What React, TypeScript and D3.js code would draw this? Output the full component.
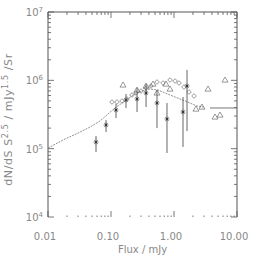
import React from 'react';
import * as d3 from 'd3';

// model curve (dotted) and the flat tail (solid)
const modelFlux = [0.01, 0.0173, 0.0299, 0.0464, 0.0669, 0.0896, 0.1157, 0.167, 0.223, 0.31, 0.416, 0.557, 0.864, 1.5, 2.32, 2.99];
const modelCounts = [1.02e5, 1.34e5, 1.69e5, 2.07e5, 2.54e5, 3.22e5, 3.94e5, 4.98e5, 6.1e5, 6.98e5, 7.46e5, 7.21e5, 6.1e5, 4.98e5, 4.21e5, 4.07e5];
const tailFlux = [3.73, 10];
const tailCounts = [3.94e5, 3.94e5];

// asterisks with error bars
const starFlux = [0.0578, 0.0834, 0.12, 0.173, 0.259, 0.36, 0.537, 0.774, 1.39, 1.61];
const starCounts = [1.25e5, 2.22e5, 3.68e5, 5.15e5, 5.33e5, 6.53e5, 4.66e5, 2.72e5, 3.44e5, 8.26e5];
const starHigh = [1.53e5, 2.62e5, 4.51e5, 6.31e5, 7.72e5, 8.83e5, 7.21e5, 4.66e5, 5.7e5, 1.42e6];
const starLow = [8.9e4, 1.75e5, 2.81e5, 3.94e5, 3.44e5, 4.07e5, 2.0e5, 8.64e4, 1.06e5, 1.81e5];

// open diamonds
const diamondFlux = [0.1037, 0.1245, 0.1496, 0.1795, 0.2154, 0.2494, 0.2993, 0.3594, 0.4315, 0.537, 0.669, 0.864, 1.04, 1.2, 1.44, 1.73, 2.08];
const diamondCounts = [4.82e5, 4.82e5, 4.98e5, 5.33e5, 6.1e5, 6.53e5, 6.98e5, 7.72e5, 8.26e5, 9.46e5, 9.14e5, 1.01e6, 9.78e5, 9.14e5, 7.98e5, 6.75e5, 5.9e5];

// open triangles
const triangleFlux = [0.155, 0.259, 0.36, 0.464, 0.537, 0.746, 0.864, 2.23, 2.78, 3.47, 4.48, 5.37, 6.45];
const triangleCounts = [8.55e5, 7.21e5, 8.26e5, 8.83e5, 6.53e5, 8.83e5, 7.46e5, 3.8e5, 4.07e5, 7.46e5, 2.91e5, 3.11e5, 1.01e6];

const xTickValues = [0.01, 0.1, 1, 10];
const xTickLabels = ['0.01', '0.10', '1.00', '10.00'];
const yTickExponents = [4, 5, 6, 7];

const W = 257;
const H = 259;
const left = 48, right = 237, top = 12, bottom = 217;
const ink = '#555';
const textColor = '#888';
const font = 'DejaVu Sans, sans-serif';

export default function App() {
  const x = d3.scaleLog().domain([0.01, 10]).range([left, right]);
  const y = d3.scaleLog().domain([1e4, 1e7]).range([bottom, top]);

  const line = d3.line<[number, number]>().x(d => x(d[0])).y(d => y(d[1]));
  const model = line(modelFlux.map((f, i) => [f, modelCounts[i]]));
  const tail = line(tailFlux.map((f, i) => [f, tailCounts[i]]));

  // ticks: majors at decades, minors at 2..9
  const xTicks: { v: number; major: boolean }[] = [];
  [0.01, 0.1, 1].forEach(d => {
    for (let k = 1; k <= 9; k++) xTicks.push({ v: d * k, major: k === 1 });
  });
  xTicks.push({ v: 10, major: true });
  const yTicks: { v: number; major: boolean }[] = [];
  [1e4, 1e5, 1e6].forEach(d => {
    for (let k = 1; k <= 9; k++) yTicks.push({ v: d * k, major: k === 1 });
  });
  yTicks.push({ v: 1e7, major: true });

  const star = (cx: number, cy: number, key: string) => {
    const r = 2.5;
    const d = r * 0.72;
    return (
      <g key={key} stroke={ink} strokeWidth={0.7}>
        <line x1={cx - r} y1={cy} x2={cx + r} y2={cy} />
        <line x1={cx} y1={cy - r} x2={cx} y2={cy + r} />
        <line x1={cx - d} y1={cy - d} x2={cx + d} y2={cy + d} />
        <line x1={cx - d} y1={cy + d} x2={cx + d} y2={cy - d} />
        <circle cx={cx} cy={cy} r={0.9} fill="#222" stroke="none" />
      </g>
    );
  };

  return (
    <svg width={W} height={H} style={{ position: 'absolute', left: 0, top: 0, background: '#fff' }}>
      {/* frame */}
      <line x1={left} y1={top} x2={right} y2={top} stroke={ink} />
      <line x1={left} y1={top} x2={left} y2={bottom} stroke={ink} />
      <line x1={right} y1={top} x2={right} y2={bottom} stroke={ink} />

      {xTicks.map((t, i) => {
        const len = t.major ? 6 : 3;
        return (
          <g key={'xt' + i} stroke={ink} strokeWidth={0.8}>
            <line x1={x(t.v)} y1={top} x2={x(t.v)} y2={top + len} />
            <line x1={x(t.v)} y1={bottom} x2={x(t.v)} y2={bottom - (t.major ? 6 : 1.5)} />
          </g>
        );
      })}
      {yTicks.map((t, i) => {
        const len = t.major ? 6 : 3;
        return (
          <g key={'yt' + i} stroke={ink} strokeWidth={0.8}>
            <line x1={left} y1={y(t.v)} x2={left + len} y2={y(t.v)} />
            <line x1={right} y1={y(t.v)} x2={right - len} y2={y(t.v)} />
          </g>
        );
      })}

      {xTickValues.map((v, i) => (
        <text key={'xl' + i} x={x(v) - 3} y={240} fontSize={10} fill={textColor}
          fontFamily={font} textAnchor="middle">{xTickLabels[i]}</text>
      ))}
      {yTickExponents.map(e => (
        <text key={'yl' + e} x={43} y={y(Math.pow(10, e)) + 4} fontSize={10} fill={textColor}
          fontFamily={font} textAnchor="end">
          10<tspan dy={-4} fontSize={7}>{e}</tspan>
        </text>
      ))}

      <text x={(left + right) / 2} y={253} fontSize={10} fill={textColor} fontFamily={font}
        textAnchor="middle">Flux / mJy</text>
      <text transform={`translate(12,${(top + bottom) / 2 + 5}) rotate(-90)`} fontSize={11}
        fill={textColor} fontFamily={font} textAnchor="middle" letterSpacing={0.6}>
        dN/dS S<tspan dy={-4} fontSize={8}>2.5</tspan>
        <tspan dy={4}> / mJy</tspan><tspan dy={-4} fontSize={8}>1.5</tspan>
        <tspan dy={4}> /Sr</tspan>
      </text>

      <path d={model || ''} fill="none" stroke="#777" strokeWidth={0.8} strokeDasharray="2,1" />
      <path d={tail || ''} fill="none" stroke="#777" strokeWidth={1} />

      {starFlux.map((f, i) => (
        <line key={'eb' + i} x1={x(f)} x2={x(f)} y1={y(starHigh[i])} y2={y(starLow[i])}
          stroke={ink} strokeWidth={0.9} />
      ))}
      {starFlux.map((f, i) => star(x(f), y(starCounts[i]), 's' + i))}

      {diamondFlux.map((f, i) => {
        const cx = x(f), cy = y(diamondCounts[i]), r = 2.3;
        return (
          <path key={'d' + i} d={`M${cx},${cy - r}L${cx + r},${cy}L${cx},${cy + r}L${cx - r},${cy}Z`}
            fill="none" stroke={ink} strokeWidth={0.6} />
        );
      })}
      {triangleFlux.map((f, i) => {
        const cx = x(f), cy = y(triangleCounts[i]), r = 3;
        return (
          <path key={'t' + i} d={`M${cx},${cy - r}L${cx + r},${cy + r * 0.7}L${cx - r},${cy + r * 0.7}Z`}
            fill="none" stroke={ink} strokeWidth={0.6} />
        );
      })}
    </svg>
  );
}
